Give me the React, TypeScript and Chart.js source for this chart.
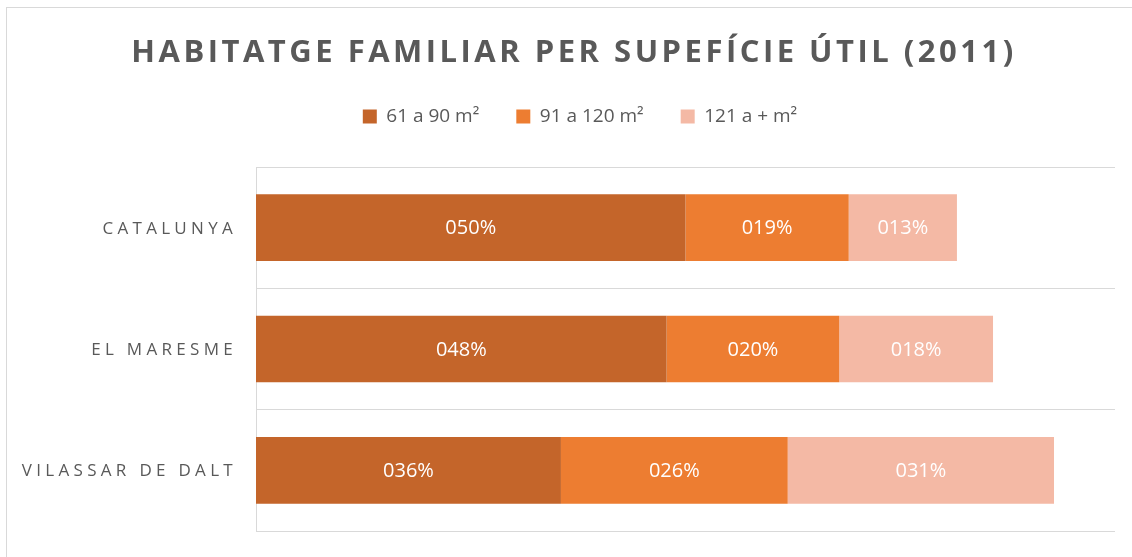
import { useEffect, useRef } from "react";
import { Chart, registerables } from "chart.js";

Chart.register(...registerables);

const TITLE = "HABITATGE FAMILIAR PER SUPEFÍCIE ÚTIL (2011)";
const categories = ["CATALUNYA", "EL MARESME", "VILASSAR DE DALT"];
const seriesNames = ["61 a 90 m²", "91 a 120 m²", "121 a + m²"];
const s61to90 = [0.5, 0.478, 0.355];
const s91to120 = [0.19, 0.201, 0.264];
const s121plus = [0.126, 0.179, 0.31];
const seriesColors = ["#C4652A", "#ED7D31", "#F4B9A5"];

const fmt = (v: number) => String(Math.round(v * 100)).padStart(3, "0") + "%";

const textPlugin = {
  id: "customText",
  afterDatasetsDraw(chart: any) {
    const ctx = chart.ctx;
    ctx.save();
    ctx.fillStyle = "#ffffff";
    ctx.font = '20px "Open Sans"';
    ctx.textAlign = "center";
    ctx.textBaseline = "middle";
    chart.data.datasets.forEach((ds: any, di: number) => {
      const meta = chart.getDatasetMeta(di);
      meta.data.forEach((el: any, i: number) => {
        const v = ds.data[i];
        const x = (el.x + el.base) / 2;
        ctx.fillText(fmt(v), x, el.y + 1);
      });
    });
    ctx.restore();
  },
  afterDraw(chart: any) {
    const ctx = chart.ctx;
    ctx.save();
    ctx.fillStyle = "#595959";
    ctx.textBaseline = "middle";
    // title
    ctx.font = 'bold 31px "Open Sans"';
    (ctx as any).letterSpacing = "3.5px";
    ctx.textAlign = "center";
    ctx.fillText(TITLE, 574, 53);
    // category labels
    ctx.font = '17px "Open Sans"';
    (ctx as any).letterSpacing = "4.3px";
    ctx.textAlign = "right";
    const yScale = chart.scales.y;
    categories.forEach((c, i) => {
      ctx.fillText(c, 237, yScale.getPixelForValue(i) + 1);
    });
    (ctx as any).letterSpacing = "0px";
    ctx.restore();
  },
};

export default function App() {
  const ref = useRef<HTMLCanvasElement | null>(null);

  useEffect(() => {
    if (!ref.current) return;
    const data = [s61to90, s91to120, s121plus];
    const chart = new Chart(ref.current, {
      type: "bar",
      data: {
        labels: categories,
        datasets: seriesNames.map((name, i) => ({
          label: name,
          data: data[i],
          backgroundColor: seriesColors[i],
          borderWidth: 0,
          categoryPercentage: 1,
          barPercentage: 0.55,
        })),
      },
      options: {
        indexAxis: "y",
        responsive: true,
        maintainAspectRatio: false,
        animation: false,
        layout: { padding: { top: 70, bottom: 26, left: 45, right: 17 } },
        plugins: {
          title: { display: false },
          tooltip: { enabled: false },
          legend: {
            display: true,
            position: "top",
            align: "center",
            labels: {
              boxWidth: 14,
              boxHeight: 14,
              padding: 37,
              color: "#595959",
              font: { size: 19, family: '"Open Sans"' },
            },
          },
        },
        scales: {
          x: {
            position: "top",
            stacked: true,
            min: 0,
            max: 1,
            ticks: { display: false },
            grid: { display: false },
            border: { display: false },
            afterFit: (s: any) => {
              s.height = 31;
            },
          },
          y: {
            stacked: true,
            ticks: { display: false },
            grid: { color: "#D9D9D9", drawTicks: false, offset: true },
            border: { display: true, color: "#D9D9D9" },
            afterFit: (s: any) => {
              s.width = 211;
            },
          },
        },
      } as any,
      plugins: [textPlugin],
    });
    return () => chart.destroy();
  }, []);

  return (
    <div style={{ position: "fixed", left: 0, top: 0, width: 1132, height: 557, overflow: "hidden", background: "#fff" }}>
      <div style={{ position: "absolute", left: 6, top: 7, width: 1140, height: 560, border: "1px solid #D9D9D9", boxSizing: "border-box" }} />
      <div style={{ position: "absolute", left: 0, top: 0, width: 1132, height: 557 }}>
        <canvas ref={ref} />
      </div>
    </div>
  );
}
